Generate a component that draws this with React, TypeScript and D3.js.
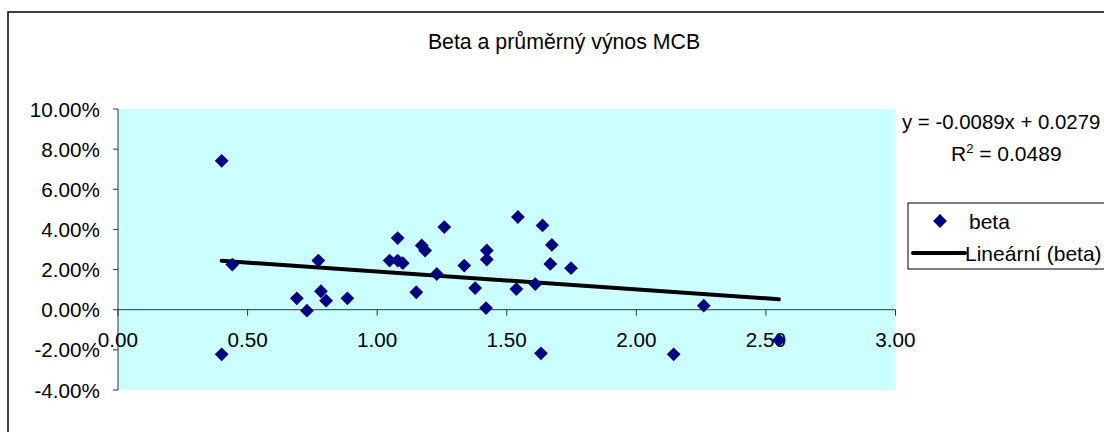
import React, { useEffect, useRef } from "react";
import * as d3 from "d3";

// beta of each stock and its average return (fraction)
const betas = [
  0.4, 0.441, 0.69, 0.729, 0.773, 0.783, 0.803, 0.885, 1.048, 1.079, 1.079,
  1.099, 1.151, 1.172, 1.185, 1.23, 1.259, 1.336, 1.378, 1.42, 1.423, 1.423,
  1.543, 1.537, 1.61, 1.638, 1.674, 1.668, 1.748, 2.26, 0.4, 1.632, 2.144,
  2.55,
];
const returns = [
  0.0742, 0.0225, 0.0057, -0.0005, 0.0245, 0.0092, 0.0045, 0.0057, 0.0245,
  0.0357, 0.0245, 0.0232, 0.0087, 0.032, 0.0295, 0.0178, 0.0412, 0.022,
  0.0108, 0.0008, 0.0295, 0.025, 0.0462, 0.0103, 0.0128, 0.042, 0.0323,
  0.0228, 0.0207, 0.002, -0.0222, -0.0217, -0.0222, -0.0152,
];
const xTicks = [0, 0.5, 1, 1.5, 2, 2.5, 3];
const yTicks = [-0.04, -0.02, 0, 0.02, 0.04, 0.06, 0.08, 0.1];
const slope = -0.0089;
const intercept = 0.0279;
const rSquared = "0.0489";
const title = "Beta a průměrný výnos MCB";

const FONT = "'Liberation Sans', Arial, sans-serif";
// excel style: plain hyphen for minus
const pct = (v: number) => d3.format(".2%")(v).replace("\u2212", "-");

const App: React.FC = () => {
  const svgRef = useRef<SVGSVGElement | null>(null);

  useEffect(() => {
    document.body.style.margin = "0";
    if (!svgRef.current) return;
    const svg = d3.select(svgRef.current);
    svg.selectAll("*").remove();

    const x = d3.scaleLinear().domain([0, 3]).range([118, 895.5]);
    const y = d3.scaleLinear().domain([-0.04, 0.1]).range([390, 109]);

    // chart frame
    svg
      .append("rect")
      .attr("x", 8)
      .attr("y", 12)
      .attr("width", 1140)
      .attr("height", 460)
      .attr("fill", "#fff")
      .attr("stroke", "#000")
      .attr("stroke-width", 1.5);

    svg
      .append("text")
      .attr("x", 564)
      .attr("y", 49)
      .attr("text-anchor", "middle")
      .style("font-family", FONT)
      .style("font-size", "21.3px")
      .text(title);

    // plot area
    svg
      .append("rect")
      .attr("x", x(0))
      .attr("y", y(0.1))
      .attr("width", x(3) - x(0))
      .attr("height", y(-0.04) - y(0.1))
      .attr("fill", "#CCFFFF");

    const axisColor = "#333";

    // y axis
    svg
      .append("line")
      .attr("x1", x(0))
      .attr("x2", x(0))
      .attr("y1", y(0.1))
      .attr("y2", y(-0.04))
      .attr("stroke", axisColor);
    yTicks.forEach((t) => {
      svg
        .append("line")
        .attr("x1", x(0) - 5)
        .attr("x2", x(0))
        .attr("y1", y(t))
        .attr("y2", y(t))
        .attr("stroke", axisColor);
      svg
        .append("text")
        .attr("x", 100)
        .attr("y", y(t))
        .attr("text-anchor", "end")
        .attr("dominant-baseline", "central")
        .style("font-family", FONT)
        .style("font-size", "20.7px")
        .text(pct(t));
    });

    // x axis crossing at 0
    svg
      .append("line")
      .attr("x1", x(0))
      .attr("x2", x(3))
      .attr("y1", y(0))
      .attr("y2", y(0))
      .attr("stroke", axisColor);
    xTicks.forEach((t) => {
      svg
        .append("line")
        .attr("x1", x(t))
        .attr("x2", x(t))
        .attr("y1", y(0))
        .attr("y2", y(0) + 6)
        .attr("stroke", axisColor);
      svg
        .append("text")
        .attr("x", x(t))
        .attr("y", 347)
        .attr("text-anchor", "middle")
        .style("font-family", FONT)
        .style("font-size", "20.7px")
        .text(d3.format(".2f")(t));
    });

    // trend line from min to max beta
    const [bMin, bMax] = d3.extent(betas) as [number, number];
    svg
      .append("line")
      .attr("x1", x(bMin))
      .attr("y1", y(slope * bMin + intercept))
      .attr("x2", x(bMax))
      .attr("y2", y(slope * bMax + intercept))
      .attr("stroke", "#000")
      .attr("stroke-width", 4)
      .attr("stroke-linecap", "round");

    const diamond = d3.symbol().type(d3.symbolSquare).size(95);
    svg
      .selectAll(".pt")
      .data(betas.map((b, i) => [b, returns[i]]))
      .enter()
      .append("path")
      .attr("class", "pt")
      .attr("d", diamond)
      .attr("transform", (d) => `translate(${x(d[0])},${y(d[1])}) rotate(45)`)
      .attr("fill", "#000080");

    // equation
    svg
      .append("text")
      .attr("x", 902)
      .attr("y", 129)
      .style("font-family", FONT)
      .style("font-size", "20.4px")
      .text(`y = ${slope.toFixed(4)}x + ${intercept.toFixed(4)}`);
    const r2 = svg
      .append("text")
      .attr("x", 951)
      .attr("y", 161)
      .style("font-family", FONT)
      .style("font-size", "21px");
    r2.append("tspan").text("R");
    r2.append("tspan")
      .attr("dy", -8)
      .style("font-size", "13px")
      .text("2");
    r2.append("tspan").attr("dy", 8).text(` = ${rSquared}`);

    // legend
    svg
      .append("rect")
      .attr("x", 908)
      .attr("y", 203)
      .attr("width", 260)
      .attr("height", 66)
      .attr("fill", "#fff")
      .attr("stroke", "#000");
    svg
      .append("path")
      .attr("d", diamond)
      .attr("transform", "translate(940,221) rotate(45)")
      .attr("fill", "#000080");
    svg
      .append("text")
      .attr("x", 969)
      .attr("y", 221)
      .attr("dominant-baseline", "central")
      .style("font-family", FONT)
      .style("font-size", "21px")
      .text("beta");
    svg
      .append("line")
      .attr("x1", 913)
      .attr("x2", 965)
      .attr("y1", 253)
      .attr("y2", 253)
      .attr("stroke", "#000")
      .attr("stroke-width", 4)
      .attr("stroke-linecap", "round");
    svg
      .append("text")
      .attr("x", 965)
      .attr("y", 253)
      .attr("dominant-baseline", "central")
      .style("font-family", FONT)
      .style("font-size", "21px")
      .text("Lineární (beta)");
  }, []);

  return (
    <div style={{ position: "absolute", left: 0, top: 0 }}>
      <svg ref={svgRef} width={1104} height={432} style={{ display: "block" }} />
    </div>
  );
};

export default App;
